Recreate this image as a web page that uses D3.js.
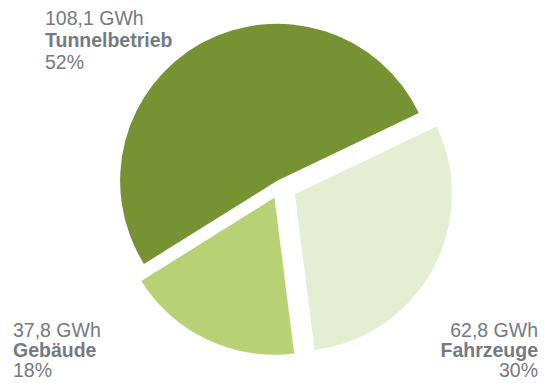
<!DOCTYPE html>
<html>
<head>
<meta charset="utf-8">
<script src="https://cdn.jsdelivr.net/npm/d3@7"></script>
<style>
  html, body { margin: 0; padding: 0; background: #ffffff; }
  svg { display: block; }
  text { font-family: "Liberation Sans", Arial, sans-serif; fill: #737a81; }
</style>
</head>
<body>
<svg id="chart" width="544" height="383"></svg>
<script>
// ---- data ----
const categories = ["Tunnelbetrieb", "Fahrzeuge", "Gebäude"];
const values = [108.1, 62.8, 37.8];            // GWh
const valueLabels = ["108,1 GWh", "62,8 GWh", "37,8 GWh"];
const percentLabels = ["52%", "30%", "18%"];

// ---- styling ----
const colors = ["#779232", "#e4eed3", "#b8d174"];
const explode = [6, 17, 13];
const center = { x: 280, y: 186 };
const radius = 157;
const startDeg = 238;

const svg = d3.select("#chart");

const pie = d3.pie()
  .sort(null)
  .value(d => d)
  .startAngle(startDeg * Math.PI / 180)
  .endAngle(startDeg * Math.PI / 180 + 2 * Math.PI);

const arcs = pie(values);
const arcGen = d3.arc().innerRadius(0).outerRadius(radius);

const g = svg.append("g").attr("transform", `translate(${center.x},${center.y})`);

g.selectAll("path")
  .data(arcs)
  .join("path")
  .attr("d", arcGen)
  .attr("fill", (d, i) => colors[i])
  .attr("transform", (d, i) => {
    const mid = (d.startAngle + d.endAngle) / 2;
    const dx = Math.sin(mid) * explode[i];
    const dy = -Math.cos(mid) * explode[i];
    return `translate(${dx},${dy})`;
  });

// ---- labels ----
const labelPos = [
  { x: 45, y: 25, anchor: "start", lh: 22 },
  { x: 538, y: 337, anchor: "end", lh: 20 },
  { x: 13, y: 337, anchor: "start", lh: 20 }
];

labelPos.forEach((p, i) => {
  const t = svg.append("text")
    .attr("x", p.x).attr("y", p.y)
    .attr("text-anchor", p.anchor)
    .style("font-size", "19.5px");
  t.append("tspan").attr("x", p.x).attr("dy", 0).text(valueLabels[i]);
  t.append("tspan").attr("x", p.x).attr("dy", p.lh)
    .style("font-weight", "bold").text(categories[i]);
  t.append("tspan").attr("x", p.x).attr("dy", p.lh).text(percentLabels[i]);
});
</script>
</body>
</html>
